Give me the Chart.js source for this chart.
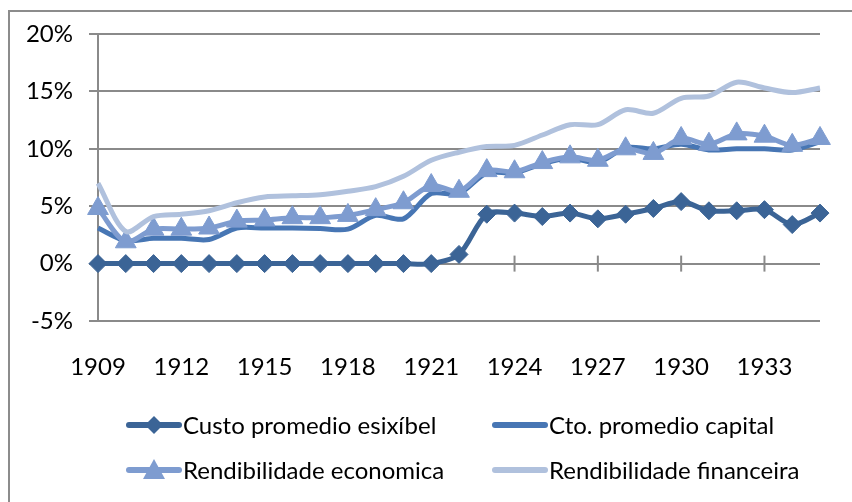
<!DOCTYPE html>
<html>
<head>
<meta charset="utf-8">
<script src="https://cdn.jsdelivr.net/npm/chart.js@4/dist/chart.umd.min.js"></script>
<style>
  body { margin: 0; background: #fff; }
  #wrap { position: relative; width: 852px; height: 502px; overflow: hidden; }
  #frame { position: absolute; left: 8px; top: 10px; width: 900px; height: 550px; border: 2px solid #8c8c8c; }
  canvas { position: absolute; left: 0; top: 0; }
  .legend-item { position: absolute; display: flex; align-items: center; font-family: Lato, "Open Sans", sans-serif; font-size: 24px; color: #000; white-space: nowrap; }
  .legend-item svg { margin-right: 1px; }
</style>
</head>
<body>
<div id="wrap">
  <div id="frame"></div>
  <canvas id="returnsChart" width="852" height="502"></canvas>
  <div id="legend"></div>
</div>
<script>
const years = [1909, 1910, 1911, 1912, 1913, 1914, 1915, 1916, 1917, 1918, 1919, 1920, 1921, 1922,
  1923, 1924, 1925, 1926, 1927, 1928, 1929, 1930, 1931, 1932, 1933, 1934, 1935];

const custoEsixibel = [0, 0, 0, 0, 0, 0, 0, 0, 0, 0, 0, 0, 0, 0.8,
  4.3, 4.4, 4.1, 4.4, 3.9, 4.3, 4.8, 5.4, 4.6, 4.6, 4.7, 3.4, 4.4];
const ctoCapital = [3.1, 2.0, 2.2, 2.2, 2.1, 3.1, 3.1, 3.1, 3.05, 3.0, 4.2, 3.9, 6.1, 6.1,
  7.9, 7.9, 8.7, 9.2, 8.8, 10.1, 10.0, 10.4, 9.9, 10.0, 10.0, 9.9, 10.6];
const rendEconomica = [4.8, 1.9, 3.0, 3.0, 3.1, 3.7, 3.8, 4.0, 4.0, 4.2, 4.7, 5.3, 6.8, 6.3,
  8.1, 8.0, 8.8, 9.3, 9.0, 10.0, 9.6, 10.9, 10.4, 11.3, 11.1, 10.3, 10.9];
const rendFinanceira = [7.0, 2.8, 4.1, 4.3, 4.6, 5.3, 5.8, 5.9, 6.0, 6.3, 6.7, 7.6, 9.0, 9.7,
  10.2, 10.3, 11.2, 12.1, 12.1, 13.4, 13.1, 14.4, 14.6, 15.8, 15.3, 14.9, 15.3];

const yTicks = [-5, 0, 5, 10, 15, 20];

const colors = ["#3b6496", "#4776b4", "#7e9cd0", "#b0c1dd"];
const names = ["Custo promedio esixíbel", "Cto. promedio capital", "Rendibilidade economica", "Rendibilidade financeira"];

// tick marks that cross the 0% line every 3 years (drawn under the series)
const zeroTicks = {
  id: "zeroTicks",
  beforeDatasetsDraw(chart) {
    const x = chart.scales.x, y = chart.scales.y;
    const y0 = y.getPixelForValue(0);
    const ctx = chart.ctx;
    ctx.save();
    ctx.strokeStyle = "#8a8a8a";
    ctx.lineWidth = 2;
    years.forEach((yr, i) => {
      if (i % 3 !== 0 || i === 0) return;
      const px = x.getPixelForValue(i);
      ctx.beginPath();
      ctx.moveTo(px, y0 - 8);
      ctx.lineTo(px, y0 + 8);
      ctx.stroke();
    });
    ctx.restore();
  }
};

const ctx = document.getElementById("returnsChart");
new Chart(ctx, {
  type: "line",
  data: {
    labels: years.map(String),
    datasets: [
      {
        label: names[0],
        data: custoEsixibel,
        borderColor: colors[0],
        backgroundColor: colors[0],
        borderWidth: 5,
        pointStyle: "rectRot",
        pointRadius: 9,
        pointBorderWidth: 1,
        tension: 0.3,
        order: 4,
      },
      {
        label: names[1],
        data: ctoCapital,
        borderColor: colors[1],
        backgroundColor: colors[1],
        borderWidth: 5,
        pointRadius: 0,
        tension: 0.3,
        order: 3,
      },
      {
        label: names[2],
        data: rendEconomica,
        borderColor: colors[2],
        backgroundColor: colors[2],
        borderWidth: 5,
        pointStyle: "triangle",
        pointRadius: 12,
        pointBorderWidth: 1,
        tension: 0.3,
        order: 2,
      },
      {
        label: names[3],
        data: rendFinanceira,
        borderColor: colors[3],
        backgroundColor: colors[3],
        borderWidth: 5,
        pointRadius: 0,
        tension: 0.3,
        order: 1,
      },
    ],
  },
  options: {
    responsive: false,
    animation: false,
    layout: { padding: { top: 34, right: 32, bottom: 0, left: 0 } },
    plugins: {
      legend: { display: false },
      tooltip: { enabled: false },
    },
    scales: {
      x: {
        offset: false,
        grid: { display: false, drawTicks: false },
        border: { display: false },
        ticks: {
          autoSkip: false,
          maxRotation: 0,
          padding: 32,
          color: "#000",
          font: { family: "Lato", size: 24 },
          callback: function (value, index) {
            return index % 3 === 0 ? years[index] : "";
          },
        },
        afterFit: function (scale) {
          scale.height = 181;
        },
      },
      y: {
        min: -5,
        max: 20,
        afterBuildTicks: function (scale) {
          scale.ticks = yTicks.map((v) => ({ value: v }));
        },
        grid: { color: "#8a8a8a", lineWidth: 2, tickLength: 9 },
        border: { color: "#8a8a8a", width: 2 },
        ticks: {
          padding: 16,
          color: "#000",
          font: { family: "Lato", size: 24 },
          callback: function (value) {
            return value + "%";
          },
        },
        afterFit: function (scale) {
          scale.width = 98;
        },
      },
    },
  },
  plugins: [zeroTicks],
});

// legend drawn like Excel: line with marker in the middle
function legendIcon(index) {
  const c = colors[index];
  let marker = "";
  if (index === 0) marker = `<polygon points="28,2 37,11 28,20 19,11" fill="${c}"/>`;
  if (index === 2) marker = `<polygon points="28,0 39,20 17,20" fill="${c}"/>`;
  return `<svg width="56" height="22" viewBox="0 0 56 22"><line x1="3" y1="11" x2="53" y2="11" stroke="${c}" stroke-width="6" stroke-linecap="round"/>${marker}</svg>`;
}

const legendPos = [[126, 410], [492, 410], [126, 455], [492, 455]];
const legendContainer = document.getElementById("legend");
names.forEach((name, i) => {
  const item = document.createElement("div");
  item.className = "legend-item";
  item.style.left = legendPos[i][0] + "px";
  item.style.top = legendPos[i][1] + "px";
  item.innerHTML = legendIcon(i) + `<span>${name}</span>`;
  legendContainer.appendChild(item);
});
</script>
</body>
</html>
